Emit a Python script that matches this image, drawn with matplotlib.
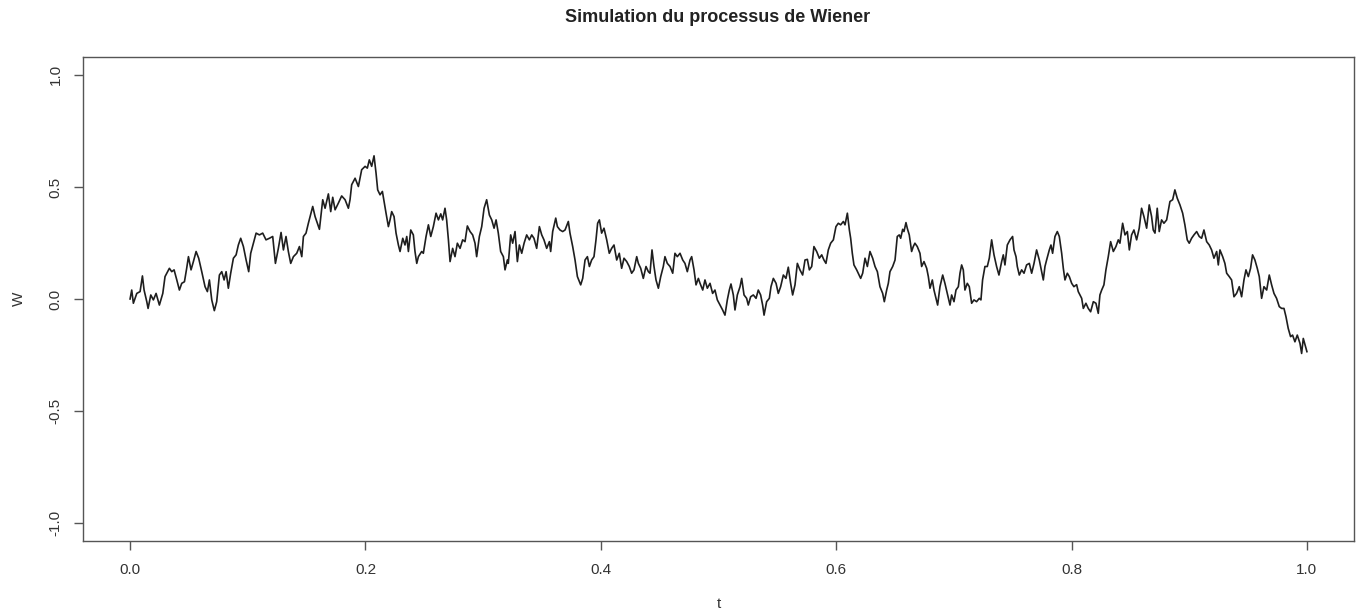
import matplotlib
matplotlib.use("Agg")
import matplotlib.pyplot as plt

# ---- data (time t, value W) ----
t = [0.0000, 0.0014, 0.0028, 0.0057, 0.0085, 0.0105, 0.0119, 0.0142, 0.0153, 0.0176,
     0.0198, 0.0221, 0.0249, 0.0278, 0.0297, 0.0334, 0.0354, 0.0374, 0.0397, 0.0419,
     0.0439, 0.0462, 0.0481, 0.0496, 0.0518, 0.0538, 0.0561, 0.0583, 0.0609, 0.0637,
     0.0657, 0.0674, 0.0694, 0.0716, 0.0736, 0.0759, 0.0779, 0.0799, 0.0816, 0.0835,
     0.0855, 0.0878, 0.0901, 0.0920, 0.0940, 0.0963, 0.0986, 0.1008, 0.1025, 0.1048,
     0.1071, 0.1099, 0.1127, 0.1155, 0.1184, 0.1212, 0.1235, 0.1260, 0.1283, 0.1303,
     0.1325, 0.1345, 0.1365, 0.1388, 0.1416, 0.1439, 0.1459, 0.1473, 0.1495, 0.1515,
     0.1552, 0.1572, 0.1609, 0.1637, 0.1657, 0.1685, 0.1705, 0.1722, 0.1742, 0.1770,
     0.1798, 0.1827, 0.1855, 0.1869, 0.1883, 0.1912, 0.1940, 0.1968, 0.1997, 0.2016,
     0.2033, 0.2053, 0.2073, 0.2090, 0.2104, 0.2124, 0.2144, 0.2158, 0.2175, 0.2195,
     0.2209, 0.2223, 0.2243, 0.2260, 0.2280, 0.2294, 0.2317, 0.2336, 0.2351, 0.2365,
     0.2385, 0.2407, 0.2421, 0.2436, 0.2450, 0.2478, 0.2492, 0.2515, 0.2535, 0.2555,
     0.2577, 0.2600, 0.2620, 0.2640, 0.2656, 0.2676, 0.2690, 0.2705, 0.2719, 0.2741,
     0.2761, 0.2781, 0.2804, 0.2826, 0.2846, 0.2866, 0.2889, 0.2911, 0.2931, 0.2945,
     0.2968, 0.2988, 0.3008, 0.3030, 0.3053, 0.3073, 0.3093, 0.3110, 0.3129, 0.3149,
     0.3172, 0.3186, 0.3206, 0.3214, 0.3234, 0.3251, 0.3271, 0.3291, 0.3308, 0.3328,
     0.3348, 0.3370, 0.3393, 0.3413, 0.3432, 0.3455, 0.3478, 0.3498, 0.3517, 0.3540,
     0.3563, 0.3574, 0.3591, 0.3617, 0.3631, 0.3653, 0.3676, 0.3696, 0.3724, 0.3738,
     0.3761, 0.3781, 0.3801, 0.3829, 0.3846, 0.3866, 0.3886, 0.3903, 0.3922, 0.3942,
     0.3959, 0.3973, 0.3988, 0.4007, 0.4027, 0.4050, 0.4072, 0.4092, 0.4112, 0.4135,
     0.4157, 0.4177, 0.4197, 0.4220, 0.4242, 0.4262, 0.4282, 0.4305, 0.4319, 0.4339,
     0.4361, 0.4384, 0.4404, 0.4418, 0.4435, 0.4452, 0.4469, 0.4489, 0.4509, 0.4531,
     0.4545, 0.4565, 0.4588, 0.4611, 0.4630, 0.4650, 0.4673, 0.4696, 0.4715, 0.4735,
     0.4758, 0.4772, 0.4792, 0.4809, 0.4829, 0.4843, 0.4866, 0.4885, 0.4905, 0.4928,
     0.4950, 0.4970, 0.4990, 0.5013, 0.5035, 0.5055, 0.5075, 0.5092, 0.5106, 0.5126,
     0.5140, 0.5160, 0.5183, 0.5197, 0.5217, 0.5239, 0.5253, 0.5273, 0.5296, 0.5319,
     0.5338, 0.5358, 0.5375, 0.5387, 0.5409, 0.5432, 0.5446, 0.5466, 0.5489, 0.5508,
     0.5528, 0.5551, 0.5573, 0.5593, 0.5613, 0.5630, 0.5650, 0.5670, 0.5692, 0.5715,
     0.5735, 0.5755, 0.5772, 0.5792, 0.5811, 0.5834, 0.5857, 0.5877, 0.5896, 0.5913,
     0.5933, 0.5953, 0.5976, 0.5998, 0.6018, 0.6038, 0.6061, 0.6075, 0.6095, 0.6112,
     0.6123, 0.6137, 0.6151, 0.6174, 0.6194, 0.6208, 0.6225, 0.6245, 0.6265, 0.6287,
     0.6310, 0.6330, 0.6350, 0.6372, 0.6395, 0.6409, 0.6429, 0.6443, 0.6457, 0.6480,
     0.6500, 0.6519, 0.6536, 0.6548, 0.6565, 0.6576, 0.6593, 0.6604, 0.6621, 0.6641,
     0.6655, 0.6669, 0.6689, 0.6712, 0.6726, 0.6746, 0.6769, 0.6783, 0.6797, 0.6817,
     0.6831, 0.6848, 0.6862, 0.6882, 0.6905, 0.6924, 0.6944, 0.6967, 0.6981, 0.7001,
     0.7018, 0.7038, 0.7052, 0.7066, 0.7080, 0.7094, 0.7114, 0.7131, 0.7151, 0.7171,
     0.7193, 0.7216, 0.7230, 0.7244, 0.7264, 0.7284, 0.7301, 0.7321, 0.7341, 0.7363,
     0.7383, 0.7406, 0.7420, 0.7434, 0.7454, 0.7477, 0.7499, 0.7511, 0.7528, 0.7539,
     0.7556, 0.7576, 0.7596, 0.7618, 0.7641, 0.7661, 0.7681, 0.7703, 0.7726, 0.7746,
     0.7760, 0.7774, 0.7788, 0.7811, 0.7825, 0.7839, 0.7859, 0.7879, 0.7896, 0.7916,
     0.7930, 0.7944, 0.7964, 0.7981, 0.8001, 0.8020, 0.8043, 0.8057, 0.8086, 0.8100,
     0.8122, 0.8142, 0.8162, 0.8185, 0.8207, 0.8227, 0.8241, 0.8256, 0.8275, 0.8292,
     0.8312, 0.8332, 0.8355, 0.8377, 0.8397, 0.8411, 0.8434, 0.8454, 0.8474, 0.8491,
     0.8510, 0.8530, 0.8553, 0.8575, 0.8595, 0.8615, 0.8638, 0.8660, 0.8680, 0.8694,
     0.8709, 0.8728, 0.8745, 0.8765, 0.8785, 0.8808, 0.8836, 0.8859, 0.8878, 0.8898,
     0.8921, 0.8944, 0.8963, 0.8983, 0.9000, 0.9020, 0.9040, 0.9063, 0.9085, 0.9105,
     0.9125, 0.9148, 0.9170, 0.9190, 0.9210, 0.9233, 0.9247, 0.9261, 0.9284, 0.9303,
     0.9318, 0.9340, 0.9360, 0.9380, 0.9402, 0.9425, 0.9445, 0.9465, 0.9482, 0.9502,
     0.9521, 0.9538, 0.9558, 0.9578, 0.9595, 0.9615, 0.9635, 0.9658, 0.9680, 0.9700,
     0.9720, 0.9742, 0.9765, 0.9785, 0.9805, 0.9822, 0.9841, 0.9861, 0.9878, 0.9898,
     0.9918, 0.9941, 0.9955, 0.9969, 0.9992, 1.0000]

W = [0.000, 0.040, -0.019, 0.025, 0.033, 0.103, 0.040, -0.012, -0.042, 0.018,
     -0.004, 0.025, -0.027, 0.025, 0.100, 0.137, 0.122, 0.130, 0.085, 0.040,
     0.070, 0.077, 0.137, 0.189, 0.130, 0.167, 0.212, 0.182, 0.122, 0.055,
     0.033, 0.085, -0.004, -0.052, -0.012, 0.107, 0.122, 0.085, 0.122, 0.048,
     0.115, 0.182, 0.197, 0.241, 0.271, 0.234, 0.174, 0.122, 0.204, 0.249,
     0.294, 0.286, 0.294, 0.264, 0.271, 0.279, 0.159, 0.226, 0.297, 0.219,
     0.279, 0.212, 0.159, 0.189, 0.204, 0.234, 0.189, 0.279, 0.294, 0.338,
     0.413, 0.368, 0.311, 0.443, 0.405, 0.469, 0.390, 0.454, 0.398, 0.428,
     0.460, 0.443, 0.405, 0.443, 0.510, 0.539, 0.502, 0.577, 0.592, 0.584,
     0.621, 0.592, 0.639, 0.562, 0.487, 0.465, 0.480, 0.435, 0.383, 0.323,
     0.353, 0.390, 0.368, 0.294, 0.241, 0.212, 0.271, 0.241, 0.279, 0.212,
     0.308, 0.286, 0.212, 0.159, 0.189, 0.212, 0.204, 0.279, 0.331, 0.279,
     0.323, 0.383, 0.353, 0.380, 0.353, 0.405, 0.353, 0.264, 0.167, 0.226,
     0.189, 0.249, 0.226, 0.264, 0.256, 0.326, 0.301, 0.286, 0.249, 0.189,
     0.279, 0.323, 0.405, 0.443, 0.375, 0.353, 0.316, 0.353, 0.294, 0.212,
     0.189, 0.130, 0.174, 0.159, 0.286, 0.249, 0.301, 0.167, 0.241, 0.204,
     0.249, 0.286, 0.264, 0.286, 0.271, 0.226, 0.323, 0.286, 0.264, 0.226,
     0.256, 0.212, 0.301, 0.361, 0.323, 0.308, 0.301, 0.308, 0.346, 0.294,
     0.234, 0.174, 0.100, 0.063, 0.092, 0.174, 0.189, 0.145, 0.174, 0.189,
     0.264, 0.338, 0.353, 0.294, 0.316, 0.264, 0.204, 0.226, 0.241, 0.174,
     0.204, 0.137, 0.182, 0.167, 0.145, 0.115, 0.130, 0.189, 0.159, 0.137,
     0.092, 0.145, 0.122, 0.115, 0.219, 0.145, 0.085, 0.048, 0.100, 0.145,
     0.189, 0.159, 0.145, 0.115, 0.204, 0.189, 0.204, 0.174, 0.159, 0.122,
     0.174, 0.189, 0.130, 0.063, 0.092, 0.070, 0.040, 0.085, 0.048, 0.070,
     0.025, 0.040, -0.004, -0.027, -0.049, -0.072, -0.004, 0.040, 0.067, 0.018,
     -0.049, 0.018, 0.055, 0.092, 0.018, 0.003, -0.027, 0.010, 0.018, 0.003,
     0.040, 0.018, -0.027, -0.072, -0.012, 0.003, 0.055, 0.092, 0.070, 0.025,
     0.055, 0.107, 0.092, 0.142, 0.070, 0.018, 0.063, 0.159, 0.130, 0.107,
     0.174, 0.177, 0.130, 0.145, 0.234, 0.212, 0.182, 0.197, 0.174, 0.159,
     0.219, 0.249, 0.264, 0.323, 0.338, 0.331, 0.346, 0.331, 0.383, 0.308,
     0.271, 0.204, 0.152, 0.130, 0.107, 0.092, 0.115, 0.182, 0.145, 0.212,
     0.182, 0.145, 0.122, 0.055, 0.025, -0.012, 0.040, 0.070, 0.122, 0.145,
     0.174, 0.279, 0.286, 0.271, 0.311, 0.301, 0.341, 0.316, 0.286, 0.212,
     0.234, 0.249, 0.234, 0.204, 0.145, 0.167, 0.137, 0.100, 0.048, 0.085,
     0.040, 0.003, -0.027, 0.055, 0.107, 0.070, 0.025, -0.027, 0.018, -0.012,
     0.040, 0.055, 0.115, 0.152, 0.130, 0.040, 0.070, 0.055, -0.019, -0.004,
     -0.012, 0.003, -0.004, 0.085, 0.145, 0.145, 0.182, 0.264, 0.197, 0.145,
     0.107, 0.167, 0.197, 0.152, 0.241, 0.264, 0.279, 0.219, 0.189, 0.145,
     0.107, 0.130, 0.115, 0.152, 0.159, 0.115, 0.159, 0.219, 0.174, 0.122,
     0.085, 0.145, 0.174, 0.219, 0.241, 0.204, 0.279, 0.301, 0.279, 0.204,
     0.137, 0.085, 0.115, 0.100, 0.070, 0.055, 0.064, 0.033, 0.003, -0.042,
     -0.019, -0.042, -0.057, -0.012, -0.019, -0.064, 0.018, 0.040, 0.063, 0.130,
     0.189, 0.256, 0.212, 0.234, 0.264, 0.249, 0.338, 0.286, 0.301, 0.219,
     0.286, 0.308, 0.264, 0.316, 0.405, 0.368, 0.316, 0.420, 0.368, 0.308,
     0.294, 0.405, 0.301, 0.353, 0.338, 0.353, 0.435, 0.443, 0.487, 0.450,
     0.420, 0.383, 0.331, 0.264, 0.249, 0.271, 0.286, 0.301, 0.279, 0.271,
     0.308, 0.256, 0.241, 0.219, 0.182, 0.212, 0.152, 0.219, 0.189, 0.159,
     0.115, 0.100, 0.085, 0.010, 0.025, 0.055, 0.010, 0.085, 0.130, 0.100,
     0.137, 0.197, 0.174, 0.137, 0.100, 0.003, 0.055, 0.040, 0.107, 0.063,
     0.025, 0.003, -0.034, -0.042, -0.042, -0.079, -0.131, -0.168, -0.161, -0.191,
     -0.161, -0.198, -0.243, -0.176, -0.220, -0.235]

title = "Simulation du processus de Wiener"
xlabel = "t"
ylabel = "W"
xticks = [0.0, 0.2, 0.4, 0.6, 0.8, 1.0]
yticks = [-1.0, -0.5, 0.0, 0.5, 1.0]

plt.rcParams['font.family'] = ['Liberation Sans', 'DejaVu Sans']

fig = plt.figure(figsize=(13.56, 6.16), dpi=100)
ax = fig.add_axes([83 / 1356, 1 - 541 / 616, (1354 - 83) / 1356, (541 - 57) / 616])

ax.plot(t, W, color='#1e1e1e', linewidth=1.2)

ax.set_xlim(-0.04, 1.04)
ax.set_ylim(-1.08, 1.08)
ax.set_xticks(xticks)
ax.set_xticklabels([f"{v:.1f}" for v in xticks])
ax.set_yticks(yticks)
ax.set_yticklabels([f"{v:.1f}" for v in yticks], rotation=90, va='center')

for s in ax.spines.values():
    s.set_color('#555555')
    s.set_linewidth(1.0)
ax.tick_params(axis='both', direction='out', length=6.5, width=1.0, color='#555555',
               labelsize=11, labelcolor='#333333')
ax.tick_params(axis='x', pad=9)
ax.tick_params(axis='y', pad=8)

ax.set_xlabel(xlabel, fontsize=11, color='#333333')
ax.set_ylabel(ylabel, fontsize=11, color='#333333')
ax.xaxis.set_label_coords(0.5, (541 - 597) / 484)
ax.yaxis.set_label_coords((26 - 83) / 1271, 0.5)

fig.text(718 / 1356, 1 - 18 / 616, title, ha='center', va='center',
         fontsize=13, fontweight='bold', color='#222222')

fig.savefig('out.png', dpi=100)
